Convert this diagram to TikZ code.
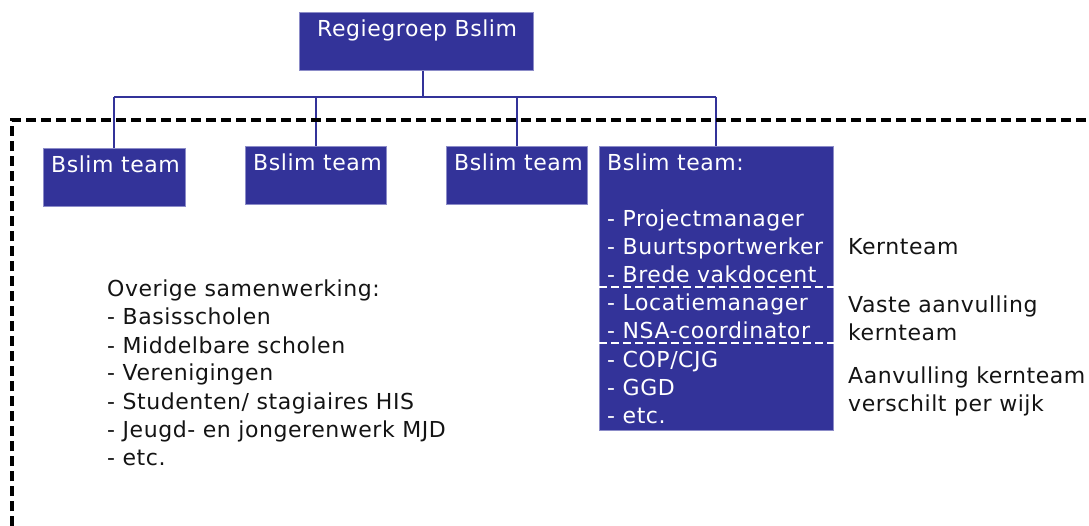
\documentclass[tikz,border=0pt]{standalone}
\usepackage{fontspec}
\setmainfont{DejaVu Sans}[LetterSpace=2.5]
\definecolor{bslim}{RGB}{51,51,153}
\definecolor{bslimedge}{RGB}{140,140,200}
\definecolor{txt}{RGB}{20,20,20}
\begin{document}
\begin{tikzpicture}[x=1pt,y=-1pt,
  every node/.style={font=\fontsize{22}{28}\selectfont},
  box/.style={draw=bslimedge,line width=0.8pt,fill=bslim,inner sep=0pt,anchor=north west},
  wtxt/.style={text=white,inner sep=0pt,anchor=base west},
  btxt/.style={text=txt,inner sep=0pt,anchor=base west},
  conn/.style={draw=bslim,line width=2pt},
  border/.style={draw=black,line width=3.3pt,dash pattern=on 10pt off 5pt},
  sep/.style={draw=white,line width=2pt,dash pattern=on 8pt off 4pt}]
\path[use as bounding box] (0,0) rectangle (1089,526);
% boxes
\node[box,minimum width=234,minimum height=58] (rg) at (299,12) {};
\node[wtxt] (rgt) at (317,37) {Regiegroep Bslim};
\node[box,minimum width=142,minimum height=58] (t1) at (43,148) {};
\node[wtxt] (t1t) at (51,172.7) {Bslim team};
\node[box,minimum width=141,minimum height=58] (t2) at (245,146) {};
\node[wtxt] (t2t) at (253,170.7) {Bslim team};
\node[box,minimum width=141,minimum height=58] (t3) at (446,146) {};
\node[wtxt] (t3t) at (454,170.7) {Bslim team};
\node[box,minimum width=234,minimum height=284] (t4) at (599,146) {};
\node[wtxt] (t4a) at (607,171) {Bslim team:};
\foreach \t [count=\i] in {Projectmanager,Buurtsportwerker,Brede vakdocent,Locatiemanager,NSA-coordinator,COP/CJG,GGD,etc.}
  \node[wtxt] (t4l\i) at (607,199+28*\i) {- \t};
% separators in team box
\draw[sep] (t4.west |- 0,287) -- (t4.east |- 0,287);
\draw[sep] (t4.west |- 0,343) -- (t4.east |- 0,343);
% connectors
\coordinate (bus) at (423,97);
\draw[conn] (bus |- rg.south) -- (bus);
\draw[conn] (t1.north |- bus) -- (t4.north |- bus);
\draw[conn] (t1.north |- bus) -- (t1.north);
\draw[conn] (t2.north |- bus) -- (t2.north);
\draw[conn] (t3.north |- bus) -- (t3.north);
\draw[conn] (t4.north |- bus) -- (t4.north);
% dashed border
\coordinate (bl) at (12,526);
\coordinate (tl) at (12,120);
\coordinate (tr) at (1089,120);
\draw[border] (bl) -- (tl) -- (tr);
% left text
\node[btxt] (ov0) at (107,297) {Overige samenwerking:};
\foreach \t [count=\i] in {Basisscholen,Middelbare scholen,Verenigingen,Studenten/ stagiaires HIS,Jeugd- en jongerenwerk MJD,etc.}
  \node[btxt] (ov\i) at (107,297+28*\i) {- \t};
% right labels
\node[btxt] (kt) at (848,255) {Kernteam};
\node[btxt] (va1) at (848,313) {Vaste aanvulling};
\node[btxt] (va2) at (848,341) {kernteam};
\node[btxt] (ak1) at (848,383) {Aanvulling kernteam};
\node[btxt] (ak2) at (848,411) {verschilt per wijk};
\end{tikzpicture}
\end{document}
